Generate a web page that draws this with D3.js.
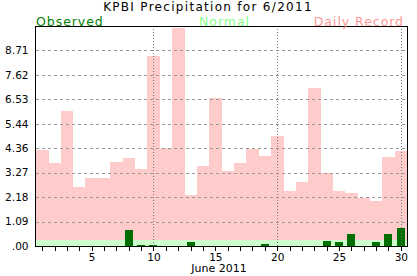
<!DOCTYPE html>
<html>
<head>
<meta charset="utf-8">
<script src="https://cdn.jsdelivr.net/npm/d3@7"></script>
<style>
  html, body { margin: 0; padding: 0; background: #ffffff; }
  svg { display: block; }
  text { font-family: "DejaVu Sans", Verdana, sans-serif; }
</style>
</head>
<body>
<svg id="chart" width="417" height="276"></svg>
<script>
// ---- data ----
const days = [1,2,3,4,5,6,7,8,9,10,11,12,13,14,15,16,17,18,19,20,21,22,23,24,25,26,27,28,29,30];
const recordValues = [4.29,3.70,6.01,2.64,3.04,3.04,3.74,3.93,3.43,8.48,4.38,9.71,2.29,3.56,6.59,3.34,3.70,4.32,4.01,4.90,2.45,2.85,7.04,3.25,2.45,2.36,2.14,2.00,3.96,4.23];
const normalValues = [0.27,0.27,0.27,0.27,0.27,0.27,0.27,0.27,0.27,0.27,0.27,0.27,0.27,0.27,0.27,0.27,0.27,0.27,0.27,0.27,0.27,0.27,0.27,0.27,0.27,0.27,0.27,0.27,0.27,0.27];
const observedValues = [0,0,0,0,0,0,0,0.71,0.05,0.04,0,0,0.19,0,0,0,0,0,0.10,0,0,0,0,0.22,0.19,0.55,0,0.19,0.55,0.82];
const yTickValues = [0, 1.09, 2.18, 3.27, 4.36, 5.44, 6.53, 7.62, 8.71];
const yTickLabels = [".00", "1.09", "2.18", "3.27", "4.36", "5.44", "6.53", "7.62", "8.71"];
const xLabelDays = [5, 10, 15, 20, 25, 30];
const xGridDays = [10, 20, 30];
const yMax = 9.8;
const titleText = "KPBI Precipitation for 6/2011";
const xAxisTitle = "June 2011";
const legendItems = ["Observed", "Normal", "Daily Record"];

// ---- layout ----
const svg = d3.select("#chart");
const mLeft = 36, mRight = 407, mTop = 26, mBottom = 246;

const x = d3.scaleLinear().domain([0.5, 30.5]).range([mLeft, mRight]);
const y = d3.scaleLinear().domain([0, yMax]).range([mBottom, mTop]);
const slot = x(2) - x(1);

// record bars
svg.append("g").selectAll("rect").data(days).join("rect")
  .attr("x", d => x(d - 0.5))
  .attr("width", slot + 0.3)
  .attr("y", (d, i) => y(recordValues[i]))
  .attr("height", (d, i) => mBottom - y(recordValues[i]))
  .attr("fill", "#ffcccc")
  .attr("shape-rendering", "crispEdges");

// normal bars
svg.append("g").selectAll("rect").data(days).join("rect")
  .attr("x", d => x(d - 0.5))
  .attr("width", slot + 0.3)
  .attr("y", (d, i) => y(normalValues[i]))
  .attr("height", (d, i) => mBottom - y(normalValues[i]))
  .attr("fill", "#ccffcc")
  .attr("shape-rendering", "crispEdges");

// observed bars
const obsW = 8;
svg.append("g").selectAll("rect").data(days).join("rect")
  .attr("x", d => x(d) - obsW / 2)
  .attr("width", obsW)
  .attr("y", (d, i) => y(observedValues[i]))
  .attr("height", (d, i) => mBottom - y(observedValues[i]))
  .attr("fill", "#006f00")
  .attr("shape-rendering", "crispEdges");

// horizontal dashed grid
svg.append("g").selectAll("line").data(yTickValues.filter(v => v > 0)).join("line")
  .attr("x1", mLeft).attr("x2", mRight)
  .attr("y1", d => Math.round(y(d)) + 0.5).attr("y2", d => Math.round(y(d)) + 0.5)
  .attr("stroke", "#999999").attr("stroke-width", 1)
  .attr("stroke-dasharray", "3,3");

// vertical dotted grid
svg.append("g").selectAll("line").data(xGridDays).join("line")
  .attr("x1", d => Math.round(x(d)) + 0.5).attr("x2", d => Math.round(x(d)) + 0.5)
  .attr("y1", mTop).attr("y2", mBottom)
  .attr("stroke", "#777777").attr("stroke-width", 1)
  .attr("stroke-dasharray", "1,2");

// x axis
const xAxis = d3.axisBottom(x)
  .tickValues(days)
  .tickSize(4)
  .tickSizeOuter(0)
  .tickFormat(d => xLabelDays.includes(d) ? String(d) : "");
const gx = svg.append("g").attr("transform", `translate(0,${mBottom + 0.5})`).call(xAxis);
gx.select(".domain").remove();
gx.selectAll(".tick line").attr("stroke", "#000").attr("shape-rendering", "crispEdges");
gx.selectAll(".tick text").attr("font-size", "10.5px").attr("fill", "#000")
  .attr("font-family", "DejaVu Sans").attr("dy", "0.9em").attr("y", 5);

// y axis labels
const yAxis = d3.axisLeft(y)
  .tickValues(yTickValues)
  .tickSize(0)
  .tickPadding(7)
  .tickFormat((d, i) => yTickLabels[i]);
const gy = svg.append("g").attr("transform", `translate(${mLeft - 0.5},0)`).call(yAxis);
gy.select(".domain").remove();
gy.selectAll(".tick text").attr("font-size", "10.5px").attr("fill", "#000")
  .attr("font-family", "DejaVu Sans");

// frame
svg.append("rect")
  .attr("x", mLeft - 0.5).attr("y", mTop + 0.5)
  .attr("width", mRight - mLeft + 1).attr("height", mBottom - mTop)
  .attr("fill", "none").attr("stroke", "#000").attr("stroke-width", 1);

// title
svg.append("text")
  .attr("x", 208).attr("y", 11.3)
  .attr("text-anchor", "middle")
  .attr("font-size", "12px")
  .attr("letter-spacing", "1.3px")
  .attr("fill", "#000")
  .text(titleText);

// legend
svg.append("text").attr("x", 36).attr("y", 25.8)
  .attr("font-size", "12.5px").attr("letter-spacing", "0.95px")
  .attr("fill", "#007f00").text(legendItems[0]);
svg.append("text").attr("x", 224.5).attr("y", 25.8).attr("text-anchor", "middle")
  .attr("font-size", "12.5px").attr("letter-spacing", "0.95px")
  .attr("fill", "#88ff88").text(legendItems[1]);
svg.append("text").attr("x", 404).attr("y", 25.8).attr("text-anchor", "end")
  .attr("font-size", "12.5px").attr("letter-spacing", "0.95px")
  .attr("fill", "#ff9999").text(legendItems[2]);

// x axis title
svg.append("text").attr("x", 219).attr("y", 271.5).attr("text-anchor", "middle")
  .attr("font-size", "11px").attr("fill", "#000").text(xAxisTitle);
</script>
</body>
</html>
